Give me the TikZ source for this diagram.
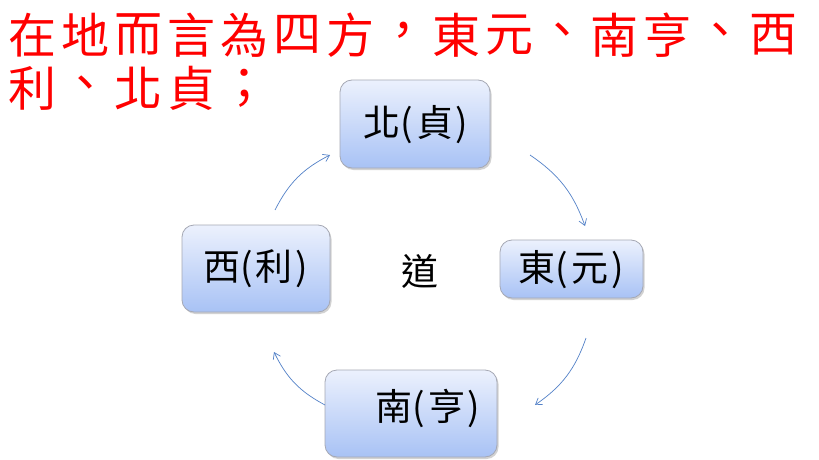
\documentclass[tikz,border=0pt]{standalone}
\usepackage{fontspec}
\newfontfamily\cjk{Noto Sans CJK TC}
\usetikzlibrary{arrows.meta,shadows}
\definecolor{titlered}{RGB}{255,0,0}
\definecolor{boxtop}{RGB}{236,241,253}
\definecolor{boxbot}{RGB}{168,194,245}
\definecolor{boxline}{RGB}{165,168,180}
\definecolor{arrowblue}{RGB}{84,130,200}
\newcommand{\pgap}{\hspace{3pt}}
\tikzset{
  titlechar/.style={text=titlered, font=\cjk\fontsize{48}{52}\selectfont, inner sep=0pt, anchor=center},
  dirbox/.style={draw=boxline, line width=0.8pt, rounded corners=12pt, top color=boxtop, bottom color=boxbot,
     drop shadow={shadow xshift=1.5pt, shadow yshift=-2pt, fill=black!35, opacity=0.5}},
  boxtext/.style={font=\cjk\fontsize{37}{40}\selectfont, text=black, inner sep=0pt},
  cyc/.style={draw=arrowblue, line width=0.7pt, -{Straight Barb[length=6pt,width=8pt]}, bend left=18},
}
\begin{document}
\begin{tikzpicture}[x=1pt,y=-1pt]
\useasboundingbox[fill=white] (0,0) rectangle (819,460);
% title line 1
\foreach \c [count=\i from 0] in {在,地,而,言,為,四,方,，,東,元,、,南,亨,、,西}
  \node[titlechar] (t1-\i) at (33+52.9*\i,35) {\c};
% title line 2
\foreach \c [count=\i from 0] in {利,、,北,貞,；}
  \node[titlechar] (t2-\i) at (33+52.9*\i,88) {\c};
% boxes
\path[dirbox] (340,80) rectangle (490,168);
\node[boxtext] (n) at (416,125) {北(\pgap 貞\pgap)};
\path[dirbox] (182,225) rectangle (330,312);
\node[boxtext] (w) at (256,269) {西(\pgap 利\pgap)};
\path[dirbox] (500,240) rectangle (643,298);
\node[boxtext] (e) at (571,270) {東(\pgap 元\pgap)};
\path[dirbox] (325,370) rectangle (497,457);
\node[boxtext] (s) at (428,408) {南(\pgap 亨\pgap)};
\node[boxtext] (dao) at (420,271) {道};
% arrows
\coordinate (a1s) at (275,210); \coordinate (a1e) at (330,155);
\coordinate (a2s) at (530,155); \coordinate (a2e) at (585,226);
\coordinate (a3s) at (586,338); \coordinate (a3e) at (535,405);
\coordinate (a4s) at (325,405); \coordinate (a4e) at (274,352);
\draw[cyc] (a1s) to (a1e);
\draw[cyc] (a2s) to (a2e);
\draw[cyc] (a3s) to (a3e);
\draw[cyc] (a4s) to (a4e);
\end{tikzpicture}
\end{document}
